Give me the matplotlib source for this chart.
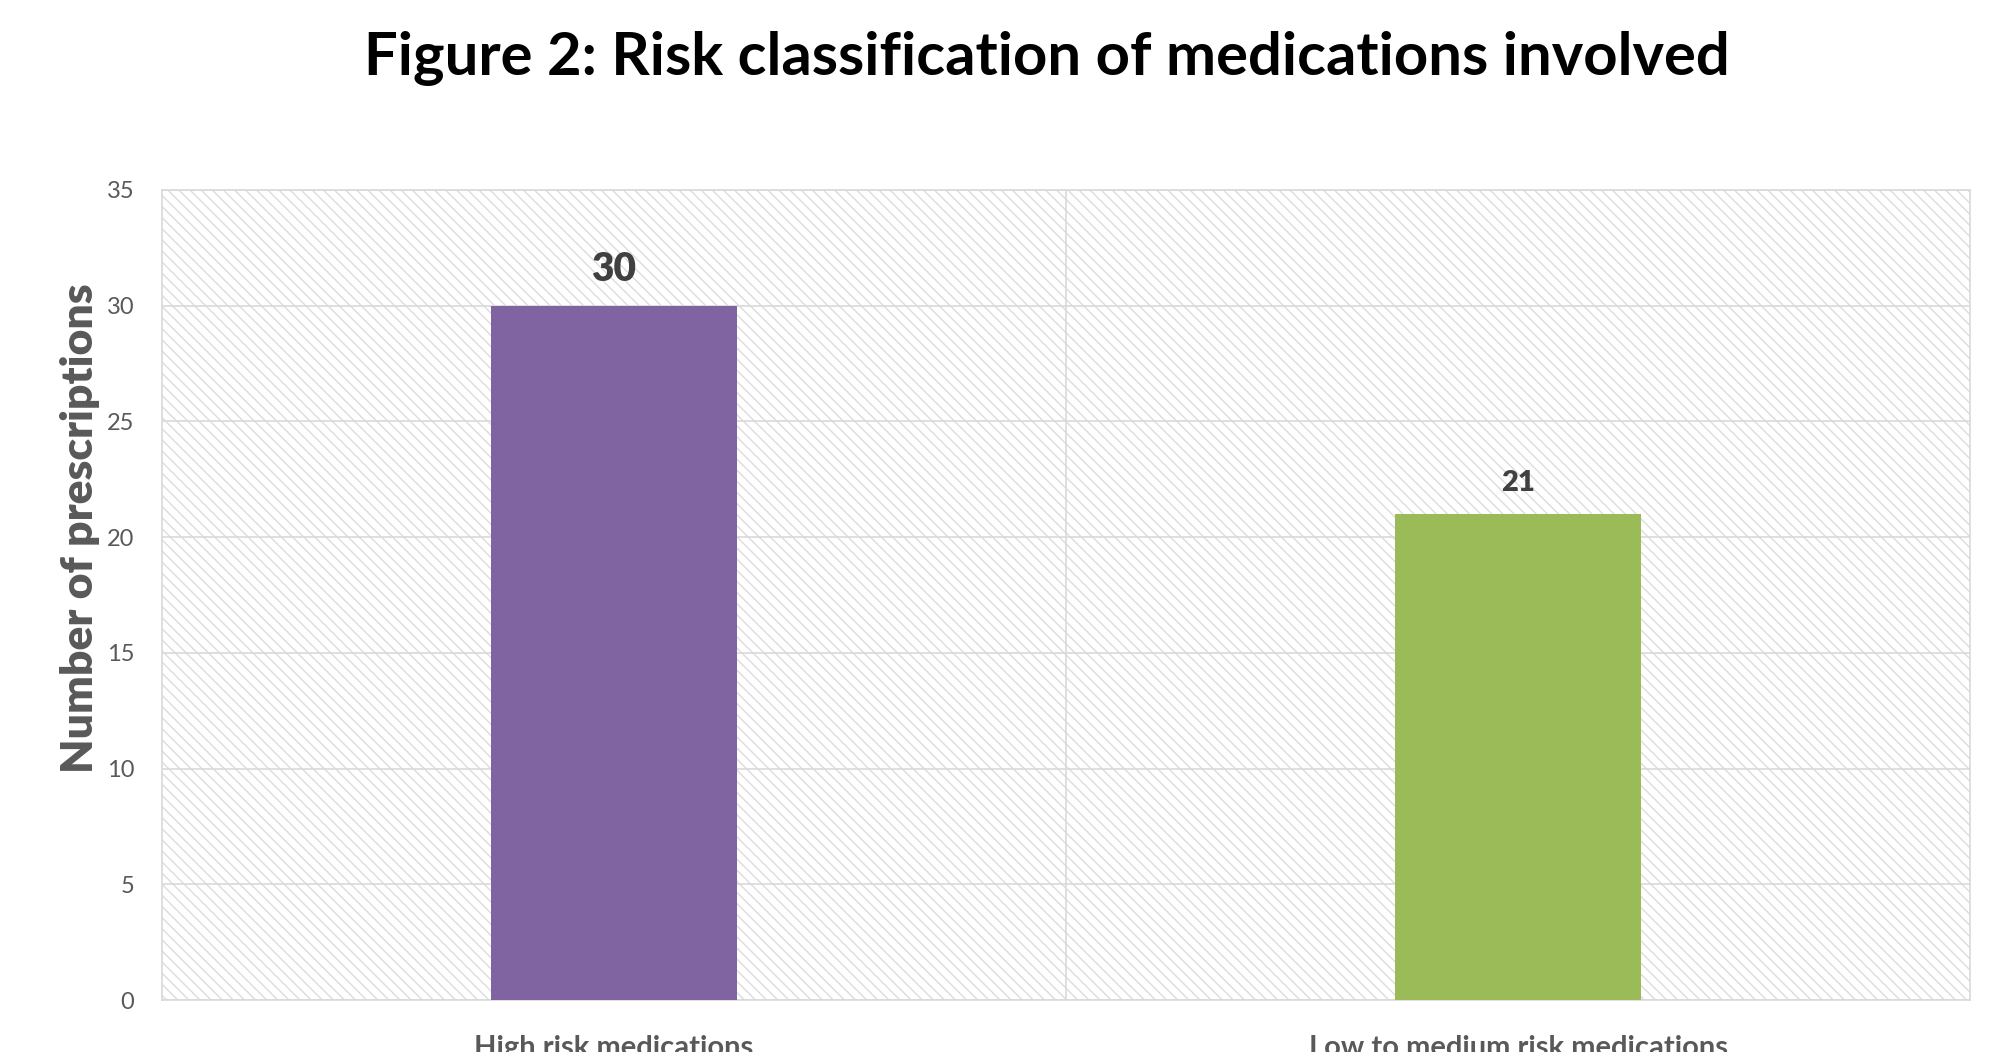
import matplotlib.pyplot as plt
from matplotlib.patches import Rectangle

# data
categories = ['High risk medications', 'Low to medium risk medications']
prescriptions = [30, 21]
bar_colors = ['#8064A2', '#9BBB59']
label_sizes = [28, 21]

plt.rcParams['font.family'] = ['Lato', 'DejaVu Sans']

fig = plt.figure(figsize=(19.97, 10.52), dpi=100)
ax = fig.add_axes([0.0811, 0.0494, 0.9054, 0.7700])

# hatched background like the excel chart area
bg = Rectangle((0, 0), 1, 1, transform=ax.transAxes, facecolor='white',
               edgecolor='#DCDCDC', hatch='\\\\\\', linewidth=0, zorder=0)
ax.add_patch(bg)

x = range(len(categories))
ax.bar(x, prescriptions, width=0.272, color=bar_colors, zorder=3)

for i, v in enumerate(prescriptions):
    off = 26 if i == 0 else 22
    ax.annotate(str(v), (i, v), xytext=(0, off), textcoords='offset points',
                ha='center', va='center', fontsize=label_sizes[i],
                fontweight='heavy', color='#404040', zorder=4)

ax.set_xlim(-0.5, 1.5)
ax.set_ylim(0, 35)
ax.set_yticks(range(0, 36, 5))
ax.set_xticks(list(x))
ax.set_xticklabels(categories, fontsize=21, fontweight='bold', color='#595959')
ax.tick_params(axis='x', length=0, pad=25)
ax.tick_params(axis='y', length=0, pad=20, labelsize=17, labelcolor='#595959')

ax.grid(axis='y', color='#D9D9D9', linewidth=1.2, zorder=1)
ax.axvline(0.5, color='#D9D9D9', linewidth=1.2, zorder=1)
for s in ax.spines.values():
    s.set_color('#D9D9D9')
    s.set_linewidth(1.2)
ax.set_axisbelow(True)

fig.text(0.524, 0.9287, 'Figure 2: Risk classification of medications involved',
         ha='center', va='baseline', fontsize=43, fontweight='bold', color='black')
fig.text(0.040, 0.498, 'Number of prescriptions', rotation=90, ha='center',
         va='center', fontsize=32, fontweight='heavy', color='#595959')

fig.savefig('out.png', dpi=100)
